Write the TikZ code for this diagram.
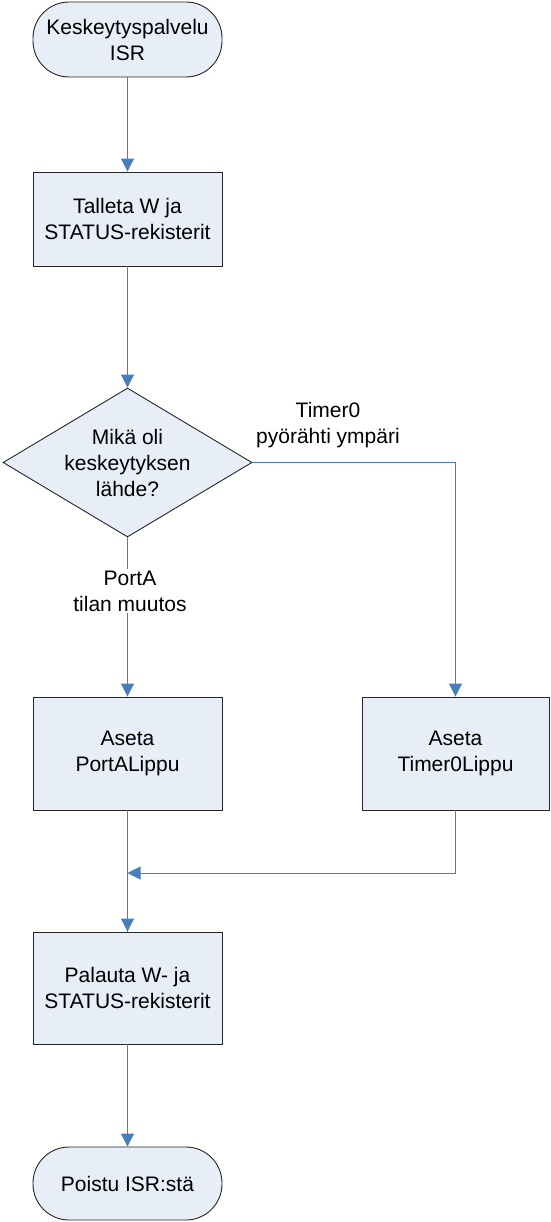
\documentclass[tikz,border=0pt]{standalone}
\usepackage{fontspec}
\setmainfont{Liberation Sans}
\usetikzlibrary{arrows.meta,shapes.geometric}
\definecolor{boxfill}{HTML}{E8EEF7}
\definecolor{linkblue}{HTML}{4A7EBB}
\begin{document}
\begin{tikzpicture}[x=1pt,y=1pt,
  base/.style={draw=black!85, line width=0.9pt, fill=boxfill, inner sep=0pt, align=center,
    font=\fontsize{21}{26}\selectfont},
  procbox/.style={base, rectangle, minimum width=189pt},
  term/.style={base, rectangle, rounded corners=36pt, minimum width=189pt},
  decision/.style={base, diamond, minimum width=249pt, minimum height=149pt, aspect=1.67},
  link/.style={draw=linkblue, line width=1pt, -{Triangle[length=13pt,width=13pt]}},
  plain/.style={draw=linkblue, line width=1pt},
  lbl/.style={align=center, font=\fontsize{21}{26}\selectfont, inner sep=2pt}
]
\useasboundingbox (0,0) rectangle (550,-1222);
\node[term, minimum height=75pt] (start) at (127.5,-39.5) {Keskeytyspalvelu\\ISR};
\node[procbox, minimum height=94pt] (save) at (127.5,-219) {Talleta W ja\\STATUS-rekisterit};
\node[decision] (dec) at (127.5,-462.5) {Mikä oli\\keskeytyksen\\lähde?};
\node[procbox, minimum height=113pt] (pa) at (127.5,-753.5) {Aseta\\PortALippu};
\node[procbox, minimum height=113pt, minimum width=187pt] (tm) at (455.5,-753.5) {Aseta\\Timer0Lippu};
\node[procbox, minimum height=112pt] (rest) at (127.5,-988) {Palauta W- ja\\STATUS-rekisterit};
\node[term, minimum height=73pt] (stop) at (127.5,-1183.5) {Poistu ISR:stä};
\coordinate (join) at (127.5,-873);
\coordinate (corner) at (tm.north |- dec.east);

\draw[link] (start) -- (save);
\draw[link] (save) -- (dec);
\draw[link] (dec) -- (pa);
\draw[plain] (dec.east) -- (corner);
\draw[link] (corner) -- (tm);
\draw[plain] (pa) -- (rest);
\draw[link] (rest) -- (stop);
\draw[link] (tm.south) |- (join);
\draw[link] (join) -- (rest);
\node[lbl, fill=white] (lpa) at (130,-591) {PortA\\tilan muutos};
\node[lbl] (ltm) at (328,-425) {Timer0\\pyörähti ympäri};
\end{tikzpicture}
\end{document}
